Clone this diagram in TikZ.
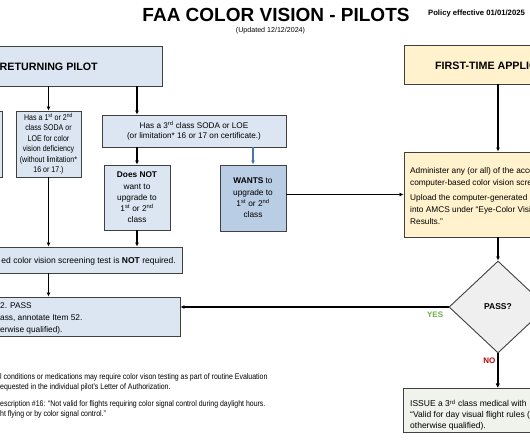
\documentclass[tikz,border=0pt]{standalone}
\usepackage{fontspec}
\setmainfont{Liberation Sans}
\newfontfamily\narrowfont[FakeStretch=0.85]{Liberation Sans}
\usetikzlibrary{shapes.geometric,arrows.meta}

\definecolor{paleblue}{HTML}{DCE6F2}
\definecolor{deepblue}{HTML}{B9CDE5}
\definecolor{paleyellow}{HTML}{FFF2CC}
\definecolor{palegrey}{HTML}{EFEFEF}
\definecolor{palegreen}{HTML}{F0F3EC}
\definecolor{boxline}{HTML}{404040}
\definecolor{arrowblue}{HTML}{4472C4}
\definecolor{yesgreen}{HTML}{70AD47}
\definecolor{nored}{HTML}{C00000}

\tikzstyle{box}=[draw=boxline,line width=0.9pt,rectangle,inner sep=0pt,align=center,font=\fontsize{8.3}{11.3}\selectfont]
\tikzstyle{flow}=[draw,line width=1.1pt,-{Latex[length=4pt,width=4pt]}]
\tikzstyle{txt}=[inner sep=0pt,font=\fontsize{8.3}{12}\selectfont]
\tikzstyle{note}=[inner sep=0pt,anchor=west,font=\narrowfont\fontsize{8.2}{10}\selectfont]
\tikzstyle{answer}=[inner sep=0pt,font=\bfseries\fontsize{8}{9}\selectfont]
\tikzset{dims/.style 2 args={minimum width=#1pt,minimum height=#2pt}}

\begin{document}
\begin{tikzpicture}[x=1pt,y=-1pt]
    \useasboundingbox (0,0) rectangle (530,442);
    \clip (0,0) rectangle (530,442);
    % Heading
    \node[inner sep=0pt,font=\bfseries\fontsize{19}{19}\selectfont] (title) at (276,15) {FAA COLOR VISION - PILOTS};
    \node[txt,font=\fontsize{7.1}{8}\selectfont] (updated) at (270.5,31) {(Updated 12/12/2024)};
    \node[txt,font=\bfseries\fontsize{7.7}{8}\selectfont] (policy) at (476.5,14) {Policy effective 01/01/2025};
    % Boxes, left to right and top to bottom
    \node[box,fill=paleblue,dims={168}{40}] (ret) at (78,66) {};
    \node[txt,anchor=west,font=\bfseries\fontsize{10.7}{12}\selectfont] (rettxt) at (-0.5,66.5) {RETURNING PILOT};
    \node[box,fill=paleyellow,dims={188}{39}] (fta) at (498,64.5) {};
    \node[txt,anchor=west,font=\bfseries\fontsize{10.7}{12}\selectfont] (ftatxt) at (435,65.5) {FIRST-TIME APPLICANT};
    \node[box,fill=paleblue,dims={42}{66}] (lft) at (-19,144) {};
    \node[box,fill=paleblue,dims={65}{66},font=\narrowfont\fontsize{8.3}{10.5}\selectfont] (soda12) at (48.5,144)
        {Has a 1\textsuperscript{st} or 2\textsuperscript{nd}\\ class SODA or\\ LOE for color\\ vision deficiency\\ (without limitation*\\ 16 or 17.)};
    \node[box,fill=paleblue,dims={184}{32},font=\fontsize{8.2}{9.8}\selectfont] (soda3) at (194,131)
        {Has a 3\textsuperscript{rd} class SODA or LOE\\ (or limitation* 16 or 17 on certificate.)};
    \node[box,fill=paleblue,dims={66}{65}] (dnot) at (137,197.5)
        {\textbf{Does NOT}\\ want to\\ upgrade to\\ 1\textsuperscript{st} or 2\textsuperscript{nd}\\ class};
    \node[box,fill=deepblue,dims={66}{66}] (wants) at (253,198)
        {\textbf{WANTS} to\\ upgrade to\\ 1\textsuperscript{st} or 2\textsuperscript{nd}\\ class};
    \node[box,fill=paleyellow,dims={188}{85}] (admin) at (498,194.5) {};
    \node[txt,anchor=north west,align=left] (admintxt) at (410,167)
        {Administer any (or all) of the acceptable\\ computer-based color vision screening\\[3pt] Upload the computer-generated\\ into AMCS under “Eye-Color Vision\\ Results.”};
    \node[box,fill=palegrey,diamond,dims={98}{92},font=\bfseries\fontsize{8.5}{9}\selectfont] (pass) at (498,307) {PASS?};
    \node[box,fill=paleblue,dims={192}{26}] (scr) at (86,260) {};
    \node[txt,anchor=east,font=\fontsize{8.5}{12}\selectfont] (scrtxt) at (176,261) {ed color vision screening test is \textbf{NOT} required.};
    \node[box,fill=paleblue,dims={190}{39}] (pbox) at (85,316.5) {};
    \node[txt,anchor=north west,align=left] (pboxtxt) at (0,302) {2. PASS\\ ass, annotate Item 52.\\ erwise qualified).};
    \node[box,fill=palegreen,dims={189}{44}] (issue) at (497.5,410) {};
    \node[txt,anchor=north west,align=left,font=\fontsize{8.5}{11}\selectfont] (issuetxt) at (410,399.5)
        {ISSUE a 3\textsuperscript{rd} class medical with\\ “Valid for day visual flight rules (\\ otherwise qualified).};
    % Footnotes
    \node[note] (note1) at (0,377) {l conditions or medications may require color vison testing as part of routine Evaluation};
    \node[note] (note2) at (0,387) {equested in the individual pilot’s Letter of Authorization.};
    \node[note] (note3) at (0,404) {escription \#16: “Not valid for flights requiring color signal control during daylight hours.};
    \node[note] (note4) at (0,414) {ht flying or by color signal control.”};
    % Connect boxes with arrows
    \foreach \col/\source/\dest in {soda12/ret/soda12, dnot/ret/soda3, dnot/soda3/dnot, soda12/soda12/scr, dnot/dnot/scr,
                                    soda12/scr/pbox, fta/fta/admin, fta/admin/pass, fta/pass/issue}
        \path[flow] (\col.center |- \source.south) -- (\col.center |- \dest.north);
    \path[flow,draw=arrowblue] (wants.north |- soda3.south) -- (wants.north);
    \path[flow] (wants.east |- admin.west) -- (admin.west);
    \path[flow] (pass.west) -- node[answer,text=yesgreen,pos=0.05,below=4pt] {YES} (pass.west -| pbox.east);
    \path[flow] (pass.south) -- node[answer,text=nored,pos=0.2,left=2pt] {NO} (issue.north);
\end{tikzpicture}
\end{document}
